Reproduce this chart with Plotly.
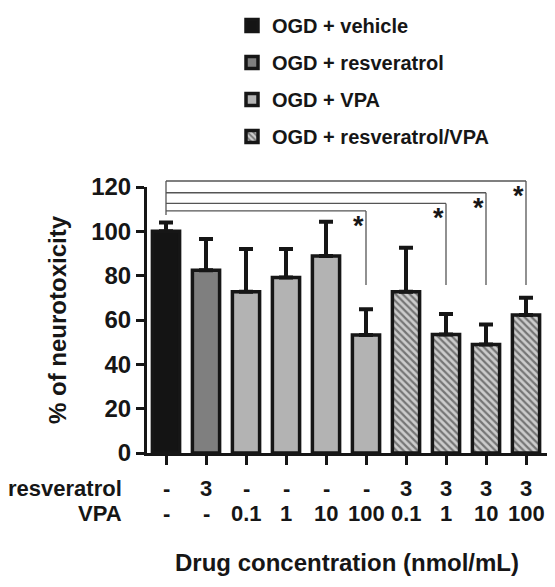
import plotly.graph_objects as go

# ---------------- data ----------------
groups = ["OGD + vehicle", "OGD + resveratrol", "OGD + VPA", "OGD + resveratrol/VPA"]
group_positions = [[0], [1], [2, 3, 4, 5], [6, 7, 8, 9]]
group_values = [[100.0], [82.5], [72.8, 79.2, 88.9, 53.2], [72.8, 53.5, 49.0, 62.2]]
group_errors = [[4.0], [14.0], [19.2, 12.8, 15.4, 11.6], [19.8, 9.2, 9.0, 7.8]]
group_colors = ["#141414", "#7f7f7f", "#b3b3b3", "#cccccc"]
group_patterns = ["", "", "", "\\"]

resveratrol_row = ["-", "3", "-", "-", "-", "-", "3", "3", "3", "3"]
vpa_row = ["-", "-", "0.1", "1", "10", "100", "0.1", "1", "10", "100"]
row_names = ["resveratrol", "VPA"]

y_ticks = [0, 20, 40, 60, 80, 100, 120]
Y_MAX = 120

# significance brackets: comparisons of vehicle (x=0) with these bars
sig_targets = [5, 7, 8, 9]
sig_heights = [109.2, 112.6, 117.4, 122.7]
sig_drop_end = 75.8
sig_left_end = 107.4

# ---------------- figure ----------------
INK = "#161616"
FONT = "Arial, Liberation Sans, sans-serif"

fig = go.Figure()
for name, xs, vals, errs, col, pat in zip(groups, group_positions, group_values,
                                          group_errors, group_colors, group_patterns):
    fig.add_trace(go.Bar(
        name=name, x=xs, y=vals, width=0.68,
        legendgroup=name,
        marker=dict(color=col, line=dict(color=INK, width=3.5),
                    pattern=dict(shape=pat, fgcolor="#1e1e1e", bgcolor=col,
                                 size=5, solidity=0.45)),
        error_y=dict(type="data", array=errs, arrayminus=[0] * len(errs),
                     symmetric=False, color=INK, thickness=4, width=7),
    ))

# brackets
hp = lambda v: v / Y_MAX
shapes = []
top = max(sig_heights)
shapes.append(dict(type="line", xref="x", yref="paper", x0=0, x1=0,
                   y0=hp(top), y1=hp(sig_left_end),
                   line=dict(color="#555555", width=1.3)))
annotations = []
for tx, h in zip(sig_targets, sig_heights):
    shapes.append(dict(type="line", xref="x", yref="paper", x0=0, x1=tx,
                       y0=hp(h), y1=hp(h), line=dict(color="#555555", width=1.3)))
    shapes.append(dict(type="line", xref="x", yref="paper", x0=tx, x1=tx,
                       y0=hp(h), y1=hp(sig_drop_end),
                       line=dict(color="#555555", width=1.3)))
    annotations.append(dict(x=tx, y=hp(h), xref="x", yref="paper", text="*",
                            showarrow=False, xanchor="center", yanchor="top",
                            xshift=-8, yshift=2,
                            font=dict(family=FONT, size=27, color=INK, weight="bold")))

# tick rows under the x axis
row_y = [-0.1316, -0.2256]
for ry, labels, rname in zip(row_y, [resveratrol_row, vpa_row], row_names):
    annotations.append(dict(x=-0.0575, y=ry, xref="paper", yref="paper", text=rname,
                            showarrow=False, xanchor="right", yanchor="middle",
                            font=dict(family=FONT, size=22, color=INK, weight="bold")))
    for i, lab in enumerate(labels):
        annotations.append(dict(x=i, y=ry, xref="x", yref="paper", text=lab,
                                showarrow=False, xanchor="center", yanchor="middle",
                                font=dict(family=FONT, size=22, color=INK, weight="bold")))

fig.update_layout(
    width=555, height=587,
    margin=dict(l=147, r=8, t=187, b=134, autoexpand=False),
    plot_bgcolor="white", paper_bgcolor="white",
    barmode="overlay",
    showlegend=True,
    legend=dict(x=0.2125, y=1.68, xanchor="left", yanchor="top",
                font=dict(family=FONT, size=20, color=INK, weight="bold"),
                tracegroupgap=8, traceorder="grouped", bgcolor="rgba(0,0,0,0)"),
    shapes=shapes,
    annotations=annotations,
    xaxis=dict(range=[-0.475, 9.525], tickvals=list(range(10)), showticklabels=False,
               ticks="outside", ticklen=9, tickwidth=3, tickcolor=INK,
               showline=True, linecolor=INK, linewidth=3, showgrid=False, zeroline=False,
               title=dict(text="Drug concentration (nmol/mL)", standoff=91,
                          font=dict(family=FONT, size=24, color=INK, weight="bold"))),
    yaxis=dict(range=[0, Y_MAX], tickvals=y_ticks,
               ticks="outside", ticklen=8, tickwidth=3, tickcolor=INK,
               showline=True, linecolor=INK, linewidth=3, showgrid=False, zeroline=False,
               tickfont=dict(family=FONT, size=24, color=INK, weight="bold"),
               title=dict(text="% of neurotoxicity", standoff=18,
                          font=dict(family=FONT, size=24, color=INK, weight="bold"))),
)

fig.write_html("out.html", config={"displayModeBar": False},
               post_script="document.body.style.margin='0px';")
